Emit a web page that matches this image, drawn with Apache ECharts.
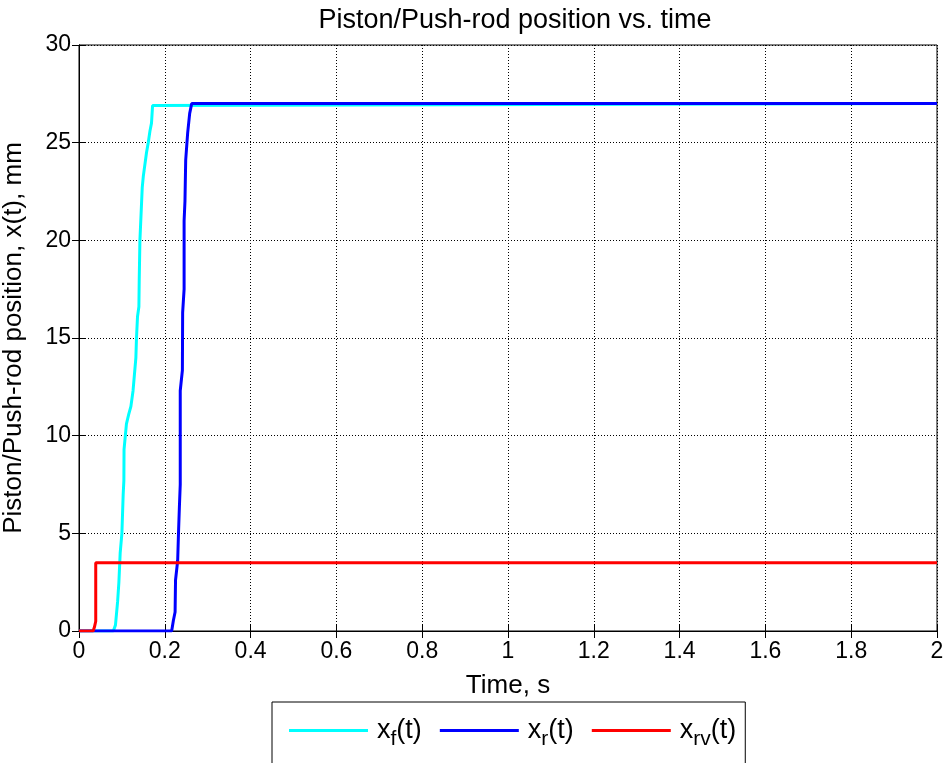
<!DOCTYPE html>
<html>
<head>
<meta charset="utf-8">
<script src="https://cdn.jsdelivr.net/npm/echarts@6/dist/echarts.min.js"></script>
<style>
  html, body { margin: 0; padding: 0; background: #fff; }
  #chart { width: 946px; height: 763px; }
</style>
</head>
<body>
<div id="chart"></div>
<script>
// Front piston stroke x_f(t)
var tFront = [0, 0.080, 0.085, 0.090, 0.093, 0.096, 0.100, 0.103, 0.1046, 0.105, 0.1106, 0.116, 0.121, 0.126, 0.1326, 0.134, 0.1364, 0.1396, 0.1404, 0.142, 0.1434, 0.1474, 0.150, 0.1574, 0.1614, 0.1654, 0.169, 0.1715, 0.172, 2];
var xFront = [0, 0, 0.3, 1.5, 2.5, 4.0, 5.0, 7.0, 7.7, 9.3, 10.6, 11.1, 11.5, 12.3, 14.0, 15.0, 16.1, 16.6, 18.0, 20.0, 20.7, 22.7, 23.3, 24.5, 25.0, 25.6, 26.0, 26.9, 27.0, 27.0];

// Rear piston stroke x_r(t)
var tRear = [0, 0.216, 0.220, 0.224, 0.225, 0.230, 0.232, 0.234, 0.236, 0.236, 0.241, 0.2416, 0.245, 0.245, 0.247, 0.2487, 0.2533, 0.258, 0.2627, 2];
var xRear = [0, 0, 0.54, 0.97, 2.6, 3.6, 5.07, 6.35, 7.5, 12.3, 13.35, 16.3, 17.5, 21.0, 22.0, 24.1, 25.5, 26.5, 27.0, 27.0];

// Push-rod travel x_rv(t)
var tRod = [0, 0.033, 0.036, 0.039, 0.039, 2];
var xRod = [0, 0, 0.2, 0.5, 3.5, 3.5];

var seriesNames = ['x_f(t)', 'x_r(t)', 'x_rv(t)'];
var seriesColors = ['#00ffff', '#0000ff', '#ff0000'];
var xTicks = { min: 0, max: 2, interval: 0.2 };
var yTicks = { min: 0, max: 30, interval: 5 };

function pairs(t, x) {
  return t.map(function (v, i) { return [v, x[i]]; });
}

var FONT = 'Liberation Sans, Arial, sans-serif';
var chart = echarts.init(document.getElementById('chart'), null, { renderer: 'canvas' });

var legendRich = {
  x: { fontFamily: FONT, fontSize: 27, color: '#000', lineHeight: 30, verticalAlign: 'middle', padding: [0, 0, 0, 4] },
  a: { fontFamily: FONT, fontSize: 27, color: '#000', lineHeight: 30, verticalAlign: 'middle' },
  s: { fontFamily: FONT, fontSize: 21, color: '#000', padding: [17, 0, 0, 0], verticalAlign: 'middle' }
};

function legendLabel(name) {
  var m = name.match(/^x_(\w+)\(t\)$/);
  return '{x|x}{s|' + m[1] + '}{a|(t)}';
}

var dottedGrid = { show: true, lineStyle: { color: '#000', type: [1, 2], width: 1 } };
var tickStyle = { show: true, inside: true, length: 7, lineStyle: { color: '#000' } };
var lineAxis = { show: true, lineStyle: { color: '#000', width: 1 } };

chart.setOption({
  animation: false,
  backgroundColor: '#fff',
  title: {
    text: 'Piston/Push-rod position vs. time',
    left: 510, top: 2, textAlign: 'center',
    textStyle: { fontFamily: FONT, fontSize: 27, fontWeight: 'normal', color: '#000' }
  },
  grid: { left: 79, right: 9, top: 45, bottom: 132, show: true, borderColor: '#000', borderWidth: 1,
          containLabel: false, outerBoundsMode: 'none' },
  legend: {
    left: 272, top: 702,
    data: seriesNames,
    icon: 'rect', itemWidth: 79, itemHeight: 3, itemGap: 18,
    borderColor: '#000', borderWidth: 1,
    padding: [15, 9, 30, 17],
    formatter: legendLabel,
    textStyle: { rich: legendRich }
  },
  xAxis: [{
    type: 'value', min: xTicks.min, max: xTicks.max, interval: xTicks.interval,
    name: 'Time, s', nameLocation: 'middle', nameGap: 42,
    nameTextStyle: { fontFamily: FONT, fontSize: 26, color: '#000' },
    axisLine: lineAxis, axisTick: tickStyle,
    axisLabel: { fontFamily: FONT, fontSize: 23, color: '#000', margin: 9 },
    splitLine: dottedGrid
  }, {
    type: 'value', position: 'top', min: xTicks.min, max: xTicks.max, interval: xTicks.interval,
    axisLine: lineAxis, axisTick: tickStyle,
    axisLabel: { show: false }, splitLine: { show: false }
  }],
  yAxis: [{
    type: 'value', min: yTicks.min, max: yTicks.max, interval: yTicks.interval,
    name: 'Piston/Push-rod position, x(t), mm', nameLocation: 'middle', nameGap: 52,
    nameTextStyle: { fontFamily: FONT, fontSize: 26, color: '#000' },
    axisLine: lineAxis, axisTick: tickStyle,
    axisLabel: { fontFamily: FONT, fontSize: 23, color: '#000', margin: 8 },
    splitLine: dottedGrid
  }, {
    type: 'value', position: 'right', min: yTicks.min, max: yTicks.max, interval: yTicks.interval,
    axisLine: lineAxis, axisTick: tickStyle,
    axisLabel: { show: false }, splitLine: { show: false }
  }],
  series: [
    { name: seriesNames[0], type: 'line', data: pairs(tFront, xFront), showSymbol: false, symbol: 'none',
      lineStyle: { color: seriesColors[0], width: 3 }, itemStyle: { color: seriesColors[0] } },
    { name: seriesNames[1], type: 'line', data: pairs(tRear, xRear), showSymbol: false, symbol: 'none',
      lineStyle: { color: seriesColors[1], width: 3 }, itemStyle: { color: seriesColors[1] } },
    { name: seriesNames[2], type: 'line', data: pairs(tRod, xRod), showSymbol: false, symbol: 'none',
      lineStyle: { color: seriesColors[2], width: 3 }, itemStyle: { color: seriesColors[2] } }
  ]
});
</script>
</body>
</html>
